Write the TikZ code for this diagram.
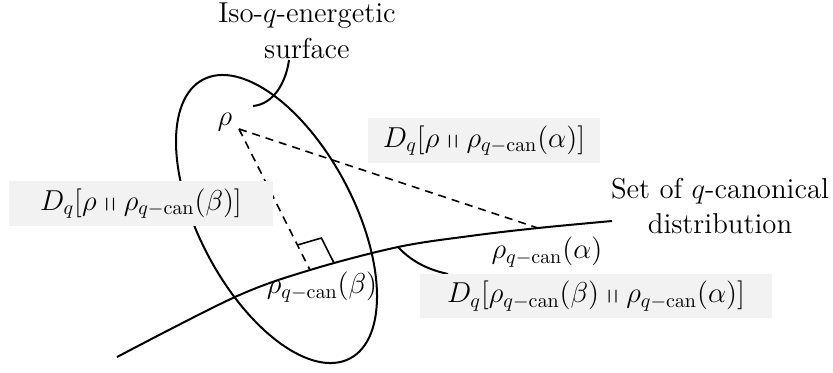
\documentclass[tikz,border=0pt]{standalone}
\usepackage{amssymb}
\definecolor{boxgray}{HTML}{F2F2F2}
\begin{document}
\begin{tikzpicture}[x=0.5pt,y=-0.5pt,
  font=\fontsize{14.4}{17.75}\selectfont,
  lbl/.style={inner sep=0pt, align=center},
  graybox/.style={fill=boxgray, inner sep=0pt},
  curveline/.style={line width=1pt},
  dashline/.style={line width=0.8pt, dash pattern=on 4pt off 3pt},
  markline/.style={line width=0.8pt}]
\useasboundingbox (0,0) rectangle (833,372);

% key points
\coordinate (rho)   at (239,129);
\coordinate (alpha) at (538,228);
\coordinate (beta)  at (310,270);
\coordinate (cstart) at (117,357);
\coordinate (c1) at (235,297);
\coordinate (kink) at (398,247);
\coordinate (c2) at (470,236);
\coordinate (cend) at (612,221);
\coordinate (ra1) at (297.4,245);
\coordinate (ra2) at (321.4,238);
\coordinate (ra3) at (334,263);
\coordinate (isoA) at (289,60);
\coordinate (isoB) at (253,106);

% iso-q-energetic surface
\draw[curveline, shift={(276.5,219)}, rotate=-62.2] (0,0) ellipse [x radius=78.8pt, y radius=38.75pt];

% set of q-canonical distributions
\draw[curveline] plot[smooth, tension=0.55] coordinates {(cstart) (c1) (beta) (kink) (c2) (alpha) (cend)};

% dashed distances
\draw[dashline] (rho) -- (alpha);
\draw[dashline] (rho) -- (beta);

% right angle mark
\draw[markline] (ra1) -- (ra2) -- (ra3);

% label leaders
\draw[curveline] (isoA) .. controls (286,82) and (274,104) .. (isoB);
\draw[curveline] (kink) .. controls (413,263) and (430,270) .. (448,274);

% labels
\node[lbl] (iso) at (307,31) {Iso-$q$-energetic\\surface};
\node[lbl] (set) at (720,206) {Set of $q$-canonical\\distribution};
\node[lbl] (rholbl) at (225,122) {$\rho$};
\node[lbl] (alphalbl) at (547,252) {$\rho_{q-\mathrm{can}}(\alpha)$};
\node[lbl] (betalbl) at (322,287) {$\rho_{q-\mathrm{can}}(\beta)$};

\node[graybox, minimum width=116pt, minimum height=22.5pt] (dA) at (484,140.5)
  {$D_q[\rho \shortparallel \rho_{q-\mathrm{can}}(\alpha)]$};
\node[graybox, minimum width=132pt, minimum height=22.5pt] (dB) at (141,203.5)
  {$D_q[\rho \shortparallel \rho_{q-\mathrm{can}}(\beta)]$};
\node[graybox, minimum width=176pt, minimum height=22pt] (dAB) at (596,296)
  {$D_q[\rho_{q-\mathrm{can}}(\beta) \shortparallel \rho_{q-\mathrm{can}}(\alpha)]$};
\end{tikzpicture}
\end{document}
